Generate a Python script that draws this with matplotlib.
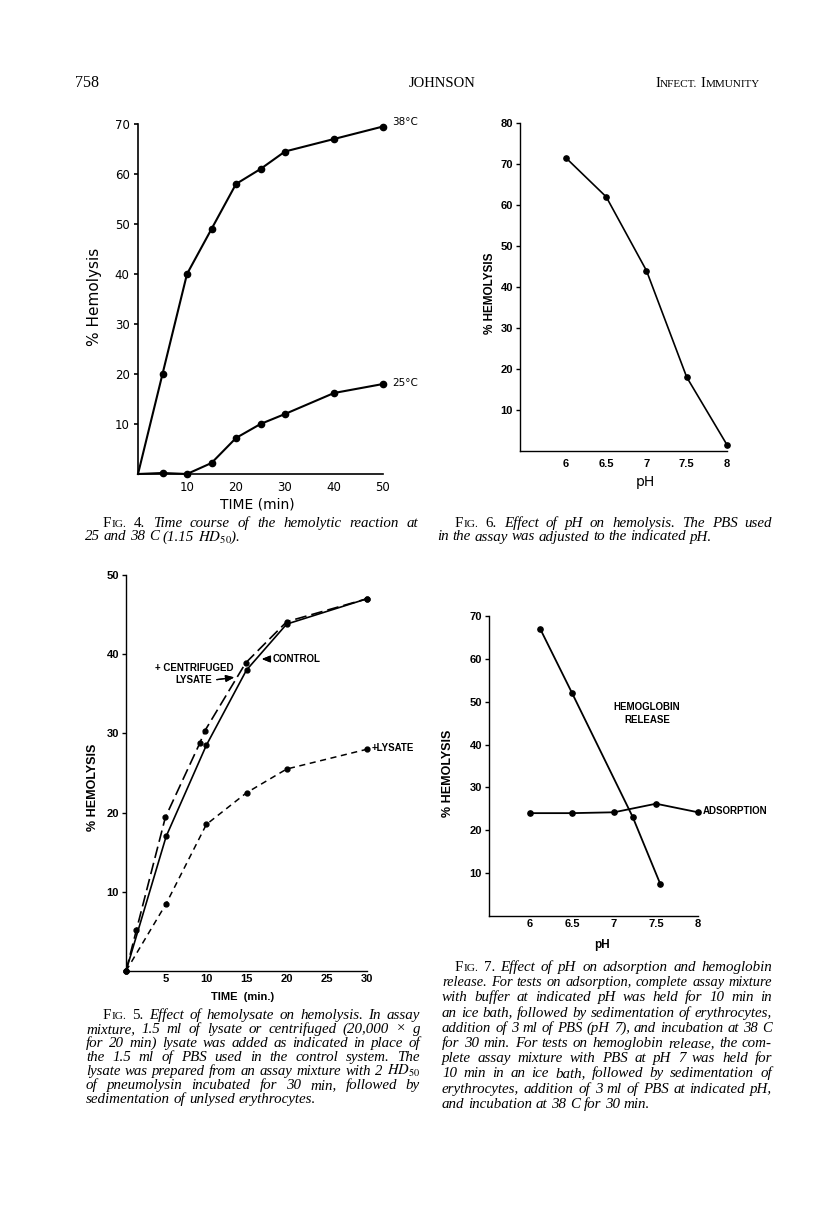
import matplotlib
matplotlib.use('Agg')
import matplotlib.pyplot as plt
from matplotlib.font_manager import FontProperties

W, H = 816, 1224

# ---- Fig. 4: time course at 25 and 38 C
t4 = [0, 5, 10, 15, 20, 25, 30, 40, 50]
hem_38 = [0, 20, 40, 49, 58, 61, 64.5, 67, 69.5]
hem_25 = [0, 0.2, 0, 2.2, 7.2, 10, 12, 16.2, 18]
x4_ticks = [10, 20, 30, 40, 50]
y4_ticks = [10, 20, 30, 40, 50, 60, 70]

# ---- Fig. 6: effect of pH on hemolysis
ph6 = [6, 6.5, 7, 7.5, 8]
hem_ph6 = [71.5, 62, 44, 18, 1.5]
x6_labels = ['6', '6.5', '7', '7.5', '8']
y6_ticks = [10, 20, 30, 40, 50, 60, 70, 80]

# ---- Fig. 5: effect of hemolysate
t_ctrl = [0, 5, 10, 15, 20, 30]
hem_ctrl = [0, 17, 28.5, 38, 43.8, 47]
t_cent = [0, 1.3, 4.9, 9.2, 9.8, 14.9, 20, 30]
hem_cent = [0, 5.2, 19.4, 28.8, 30.3, 38.9, 44.1, 47]
t_lys = [0, 5, 10, 15, 20, 30]
hem_lys = [0, 8.5, 18.5, 22.5, 25.5, 28]
x5_ticks = [5, 10, 15, 20, 25, 30]
y5_ticks = [10, 20, 30, 40, 50]

# ---- Fig. 7: adsorption and hemoglobin release
ph_rel = [6.12, 6.5, 7.22, 7.55]
hem_rel = [67, 52, 23.2, 7.5]
ph_ads = [6, 6.5, 7, 7.5, 8]
hem_ads = [24, 24, 24.2, 26.2, 24.2]
x7_labels = ['6', '6.5', '7', '7.5', '8']
y7_ticks = [10, 20, 30, 40, 50, 60, 70]

CAP4 = ["FIG. 4. Time course of the hemolytic reaction at",
        r"25 and 38 C (1.15 $\mathit{HD}_{50}$)."]
CAP6 = ["FIG. 6. Effect of pH on hemolysis. The PBS used",
        "in the assay was adjusted to the indicated pH."]
CAP5 = ["FIG. 5. Effect of hemolysate on hemolysis. In assay",
        "mixture, 1.5 ml of lysate or centrifuged (20,000 \u00d7 g",
        "for 20 min) lysate was added as indicated in place of",
        "the 1.5 ml of PBS used in the control system. The",
        r"lysate was prepared from an assay mixture with 2 $\mathit{HD}_{50}$",
        "of pneumolysin incubated for 30 min, followed by",
        "sedimentation of unlysed erythrocytes."]
CAP7 = ["FIG. 7. Effect of pH on adsorption and hemoglobin",
        "release. For tests on adsorption, complete assay mixture",
        "with buffer at indicated pH was held for 10 min in",
        "an ice bath, followed by sedimentation of erythrocytes,",
        "addition of 3 ml of PBS (pH 7), and incubation at 38 C",
        "for 30 min. For tests on hemoglobin release, the com-",
        "plete assay mixture with PBS at pH 7 was held for",
        "10 min in an ice bath, followed by sedimentation of",
        "erythrocytes, addition of 3 ml of PBS at indicated pH,",
        "and incubation at 38 C for 30 min."]

SERIF = 'Liberation Serif'
SANS4 = FontProperties(family='DejaVu Sans', size=8.5)
BOLD = ['Liberation Sans Narrow', 'Liberation Sans']

fig = plt.figure(figsize=(W / 100, H / 100), dpi=100)
fig.patch.set_facecolor('white')
renderer = fig.canvas.get_renderer()


def axes_px(x0, x1, ytop, ybot):
    return fig.add_axes([x0 / W, 1 - ybot / H, (x1 - x0) / W, (ybot - ytop) / H])


def ptext(x, y, s, **kw):
    return fig.text(x / W, 1 - y / H, s, **kw)


def setup(ax, xlim, ylim, xt, xtl, yt, fp, lw=1.0, xpad=3, ypad=2):
    ax.set_xlim(*xlim)
    ax.set_ylim(*ylim)
    ax.patch.set_alpha(0)
    for s in ('top', 'right'):
        ax.spines[s].set_visible(False)
    for s in ('left', 'bottom'):
        ax.spines[s].set_linewidth(lw)
    ax.set_xticks(xt)
    ax.set_xticklabels(xtl, fontproperties=fp)
    ax.set_yticks(yt)
    ax.set_yticklabels([str(v) for v in yt], fontproperties=fp)
    ax.tick_params(axis='y', direction='out', length=3, width=lw, pad=ypad)
    ax.tick_params(axis='x', direction='out', length=0, width=lw, pad=xpad)


# ── Fig. 4 ─────────────────────────────────────────────────────────────
ax4 = axes_px(138, 383, 124, 474)
setup(ax4, (0, 50), (0, 70), x4_ticks, [str(v) for v in x4_ticks], y4_ticks,
      SANS4, lw=1.2, xpad=5, ypad=3)
for y in (hem_38, hem_25):
    ax4.plot(t4, y, '-', color='black', lw=1.5, marker='o', ms=4.5,
             markevery=slice(1, None), clip_on=False)
ptext(95, 297, '% Hemolysis', rotation=90, ha='center', va='center',
      family='DejaVu Sans', size=11)
ptext(257, 505, 'TIME (min)', ha='center', va='center', family='DejaVu Sans', size=10)
ptext(392, 122, '38\u00b0C', ha='left', va='center', family='DejaVu Sans', size=7.5)
ptext(392, 383, '25\u00b0C', ha='left', va='center', family='DejaVu Sans', size=7.5)

# ── Fig. 6 ─────────────────────────────────────────────────────────────
fpb = FontProperties(family=BOLD, weight='bold', size=8)
ax6 = axes_px(520, 727, 123, 451)
setup(ax6, (5.43, 8), (0, 80), ph6, x6_labels, y6_ticks, fpb, xpad=6)
ax6.plot(ph6, hem_ph6, '-', color='black', lw=1.2, marker='o', ms=3.8, clip_on=False)
ptext(490, 293, '% HEMOLYSIS', rotation=90, ha='center', va='center',
      family=BOLD, weight='bold', size=8.5)
ptext(645, 482, 'pH', ha='center', va='center', family='DejaVu Sans', size=10)

# ── Fig. 5 ─────────────────────────────────────────────────────────────
ax5 = axes_px(126, 367, 575, 971)
setup(ax5, (0, 30), (0, 50), x5_ticks, [str(v) for v in x5_ticks], y5_ticks, fpb, xpad=2)
ax5.plot(t_ctrl, hem_ctrl, '-', color='black', lw=1.2, marker='o', ms=3.5, clip_on=False)
ax5.plot(t_cent, hem_cent, color='black', lw=1.2, dashes=(7, 3), marker='o', ms=3.5,
         clip_on=False)
ax5.plot(t_lys, hem_lys, color='black', lw=1.1, dashes=(4, 3), marker='o', ms=3.5,
         clip_on=False)
ptext(93, 787, '% HEMOLYSIS', rotation=90, ha='center', va='center',
      family=BOLD, weight='bold', size=9)
ptext(243, 997, 'TIME  (min.)', ha='center', va='center', family=BOLD, weight='bold', size=8)
lab = dict(family=BOLD, weight='bold', size=7, va='center')
ptext(155, 668, '+ CENTRIFUGED', ha='left', **lab)
ptext(175, 680, 'LYSATE', ha='left', **lab)
ptext(273, 659, 'CONTROL', ha='left', **lab)
ptext(372, 748, '+LYSATE', ha='left', **lab)
arrow = dict(arrowstyle='-|>,head_length=0.5,head_width=0.2', color='black', lw=0.9)
fig.add_artist(plt.annotate('', xy=(237, H - 677), xytext=(214, H - 680),
                            xycoords='figure pixels', arrowprops=arrow))
fig.add_artist(plt.annotate('', xy=(259, H - 659), xytext=(272, H - 659),
                            xycoords='figure pixels', arrowprops=arrow))

# ── Fig. 7 ─────────────────────────────────────────────────────────────
ax7 = axes_px(489, 698, 616, 916)
setup(ax7, (5.51, 8), (0, 70), ph6, x7_labels, y7_ticks, fpb, xpad=2)
ax7.plot(ph_rel, hem_rel, '-', color='black', lw=1.3, marker='o', ms=3.8, clip_on=False)
ax7.plot(ph_ads, hem_ads, '-', color='black', lw=1.3, marker='o', ms=3.8, clip_on=False)
ptext(448, 773, '% HEMOLYSIS', rotation=90, ha='center', va='center',
      family=BOLD, weight='bold', size=9)
ptext(602, 945, 'pH', ha='center', va='center', family=BOLD, weight='bold', size=8.5)
ptext(647, 707, 'HEMOGLOBIN', ha='center', **lab)
ptext(647, 720, 'RELEASE', ha='center', **lab)
ptext(703, 811, 'ADSORPTION', ha='left', **lab)


# ── text helpers (justified captions, small caps) ──────────────────────
def measure(s, size, style):
    t = fig.text(0, 0, s, family=SERIF, size=size, style=style, math_fontfamily='stix')
    w = t.get_window_extent(renderer).width
    t.remove()
    return w


def put_segments(x, y, segs):
    for s, size, style in segs:
        ptext(x, y, s, family=SERIF, size=size, style=style, va='baseline',
              math_fontfamily='stix')
        x += measure(s, size, style)
    return x


def smallcaps(word, size):
    return [(word[0], size, 'normal'), (word[1:], size * 0.76, 'normal')]


def line_segments(words, first, size):
    segs = []
    for j, w in enumerate(words):
        if first and j == 0:
            segs.append(smallcaps(w, size))
        elif first and j == 1:
            segs.append([(w, size, 'normal')])
        else:
            segs.append([(w, size, 'italic')])
    return segs


def caption(lines, x_first, x_left, x_right, y0, dy, size=10.8):
    for i, line in enumerate(lines):
        words = line.split(' ')
        x = x_first if i == 0 else x_left
        sz = size
        while True:
            space = measure('a a', sz, 'italic') - measure('aa', sz, 'italic')
            segs = line_segments(words, i == 0, sz)
            widths = [sum(measure(*s) for s in ws) for ws in segs]
            gap = (x_right - x - sum(widths)) / (len(words) - 1)
            if gap >= 1.05 * space or sz < 9:
                break
            sz -= 0.2
        if i == len(lines) - 1:
            gap = space
        for ws, w in zip(segs, widths):
            put_segments(x, y0 + i * dy, ws)
            x += w + gap


caption(CAP4, 103, 85, 418, 527, 13.5)
caption(CAP6, 455, 437, 772, 527, 13.5)
caption(CAP5, 103, 86, 420, 1019, 14)
caption(CAP7, 455, 442, 772, 971, 15.2)

# ── running head ───────────────────────────────────────────────────────
ptext(75, 87, '758', family=SERIF, size=11.5, va='baseline')
ptext(442, 87, 'JOHNSON', family=SERIF, size=10.5, va='baseline', ha='center')
x = put_segments(655, 87, smallcaps('INFECT.', 10.5))
x += measure(' ', 10.5, 'normal')
put_segments(x, 87, smallcaps('IMMUNITY', 10.5))

fig.savefig('out.png', dpi=100, facecolor='white')
